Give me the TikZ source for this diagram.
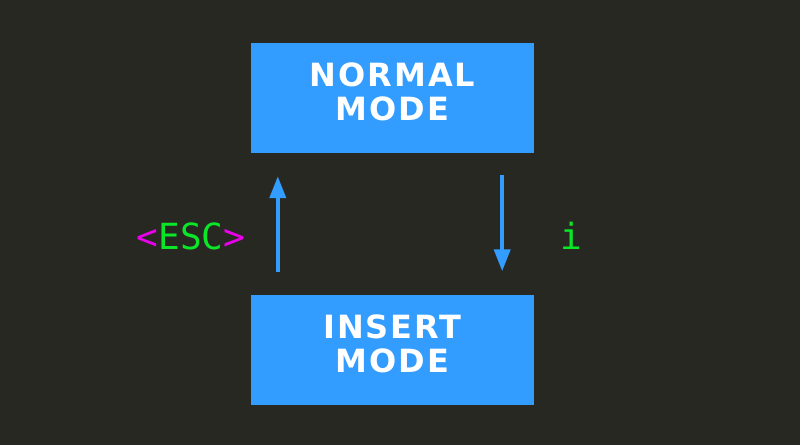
\documentclass[tikz,border=0pt]{standalone}
\usepackage{fontspec}
\setmainfont{DejaVu Sans}
\newfontfamily\modefont[LetterSpace=6]{DejaVu Sans}
\newfontfamily\codefont{DejaVu Sans Mono}
\usetikzlibrary{arrows.meta}
\definecolor{bgdark}{RGB}{39,40,34}
\definecolor{modeblue}{RGB}{51,157,255}
\definecolor{keygreen}{RGB}{10,230,40}
\definecolor{keymagenta}{RGB}{235,0,235}
\begin{document}
\begin{tikzpicture}
  [x=1pt, y=1pt,
   modebox/.style={rectangle, fill=modeblue, draw=none, minimum width=283pt, minimum height=110pt, inner sep=0pt},
   modetext/.style={text=white, align=center, font=\modefont\fontsize{32}{34}\selectfont\bfseries, inner sep=0pt},
   keytext/.style={anchor=base, inner sep=0pt, font=\codefont\fontsize{36}{36}\selectfont},
   switch/.style={draw=modeblue, line width=4pt, -{Triangle[width=16pt,length=22pt]}, shorten <=22pt, shorten >=23pt}]

  % Fondo
  \fill[bgdark] (0,0) rectangle (800,445);
  \useasboundingbox (0,0) rectangle (800,445);

  % Modos
  \node[modebox] (normal) at (392.5,347) {};
  \node[modebox] (insert) at (392.5,95.5) {};
  \node[modetext] (normaltxt) at ([yshift=6pt]normal.center) {NORMAL\\MODE};
  \node[modetext] (inserttxt) at ([yshift=6pt]insert.center) {INSERT\\MODE};

  % Transiciones
  \draw[switch] ([xshift=27pt]insert.north west) -- ([xshift=27pt]normal.south west);
  \draw[switch] ([xshift=-32pt]normal.south east) -- ([xshift=-32pt]insert.north east);

  % Teclas
  \node[keytext] (esc) at (191,196) {\textcolor{keymagenta}{<}\textcolor{keygreen}{ESC}\textcolor{keymagenta}{>}};
  \node[keytext, text=keygreen] (ikey) at (571,196) {i};
\end{tikzpicture}
\end{document}
